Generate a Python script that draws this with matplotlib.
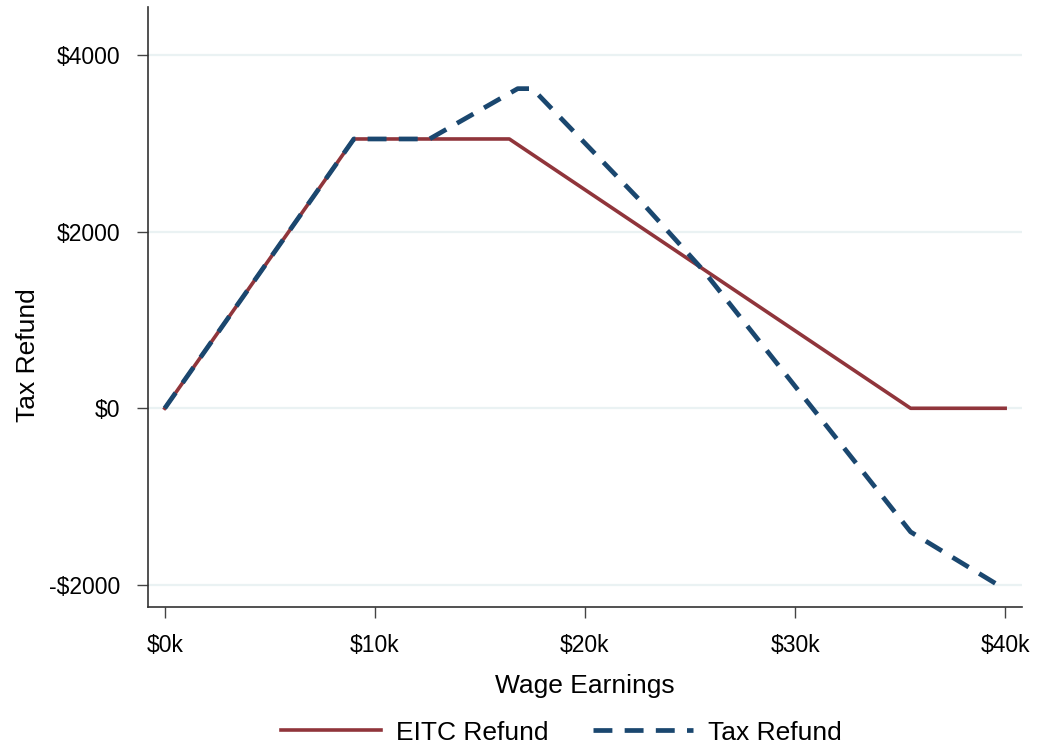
import matplotlib
matplotlib.use("Agg")
import matplotlib.pyplot as plt
from matplotlib.ticker import FuncFormatter

plt.rcParams["font.family"] = ["Liberation Sans", "DejaVu Sans"]

# wage earnings in $k, refunds in $
eitc_x = [0, 9.0, 16.4, 35.5, 40]
eitc_y = [0, 3050, 3050, 0, 0]

tax_x = [0, 9.0, 12.6, 16.8, 17.5, 22.6, 25.6, 35.5, 40]
tax_y = [0, 3050, 3050, 3620, 3620, 2360, 1570, -1400, -2050]

x_ticks = [0, 10, 20, 30, 40]
y_ticks = [-2000, 0, 2000, 4000]

red = "#90353b"
navy = "#1a476f"

fig = plt.figure(figsize=(10.39, 7.49), dpi=100)
ax = fig.add_axes([0.1424, 0.19, 0.8412, 0.8007])

ax.plot(eitc_x, eitc_y, color=red, lw=2.6, label="EITC Refund", solid_joinstyle="round")
ax.plot(tax_x, tax_y, color=navy, lw=3.4, ls=(0, (4.0, 2.6)), label="Tax Refund")

ax.set_xlim(-0.8, 40.8)
ax.set_ylim(-2247, 4545)
ax.set_xticks(x_ticks)
ax.set_yticks(y_ticks)
ax.xaxis.set_major_formatter(FuncFormatter(lambda v, p: f"${v:.0f}k"))
ax.yaxis.set_major_formatter(FuncFormatter(lambda v, p: f"-${-v:.0f}" if v < 0 else f"${v:.0f}"))

ax.grid(axis="y", color="#eaf2f3", lw=1.6)
ax.set_axisbelow(True)
for s in ["top", "right"]:
    ax.spines[s].set_visible(False)
for s in ["left", "bottom"]:
    ax.spines[s].set_color("#333333")
    ax.spines[s].set_linewidth(1.2)
ax.tick_params(length=8, width=1.0, color="#444444", labelsize=16.5, pad=12)

ax.set_xlabel("Wage Earnings", fontsize=19, labelpad=12)
ax.set_ylabel("Tax Refund", fontsize=19)
ax.yaxis.set_label_coords(-0.124, 0.42)

fig.legend(loc="center", bbox_to_anchor=(0.54, 0.022), ncol=2, frameon=False,
           fontsize=19, handlelength=3.8, columnspacing=1.7, handletextpad=0.55,
           borderpad=0)

fig.savefig("out.png", dpi=100)
